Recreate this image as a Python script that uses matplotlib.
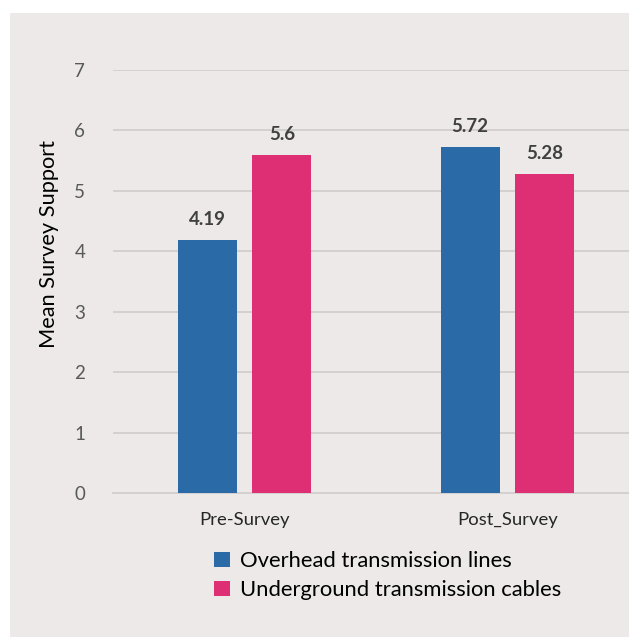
import matplotlib
matplotlib.use("Agg")
import matplotlib.pyplot as plt
from matplotlib.patches import Rectangle
import numpy as np

categories = ["Pre-Survey", "Post_Survey"]
series_names = ["Overhead transmission lines", "Underground transmission cables"]
overhead = [4.19, 5.72]
underground = [5.6, 5.28]
y_ticks = [0, 1, 2, 3, 4, 5, 6, 7]

colors = ["#2A6AA6", "#DE2E74"]
bg = "#ECE9E8"
grid_c = "#D3D0CF"

plt.rcParams["font.family"] = ["Lato", "DejaVu Sans"]

W, H = 629, 637
fig = plt.figure(figsize=(W / 100, H / 100), dpi=100)
fig.patch.set_facecolor("white")
fig.add_artist(Rectangle((10 / W, 0), 1 - 10 / W, (H - 13) / H,
                         transform=fig.transFigure, facecolor=bg,
                         edgecolor="none", zorder=0))

left, right = 113 / W, 1.0
bottom, top = (H - 493) / H, (H - 70) / H
ax = fig.add_axes([left, bottom, right - left, top - bottom])
ax.set_facecolor(bg)
ax.patch.set_alpha(0)

x = np.arange(len(categories))
bw = 0.224
off = 0.142
bars1 = ax.bar(x - off, overhead, bw, color=colors[0], label=series_names[0], zorder=3)
bars2 = ax.bar(x + off, underground, bw, color=colors[1], label=series_names[1], zorder=3)

for bars, vals in ((bars1, overhead), (bars2, underground)):
    for b, v in zip(bars, vals):
        ax.text(b.get_x() + b.get_width() / 2, v + 0.2, f"{v:g}",
                ha="center", va="bottom", fontsize=13.5, fontweight="bold",
                color="#404040")

ax.set_ylim(0, 7)
ax.set_xlim(-0.5, -0.5 + 516 / 263)
ax.set_yticks(y_ticks)
ax.set_yticklabels([str(t) for t in y_ticks], fontsize=13.5, color="#595959")
ax.set_xticks(x)
ax.set_xticklabels(categories, fontsize=13.3, color="#262626")
ax.tick_params(axis="y", length=0, pad=20)
ax.tick_params(axis="x", length=0, pad=14)
ax.grid(axis="y", color=grid_c, linewidth=1.4, zorder=0)
for s in ("top", "right", "left"):
    ax.spines[s].set_visible(False)
ax.spines["bottom"].set_color(grid_c)
ax.spines["bottom"].set_linewidth(1.4)
ax.set_ylabel("Mean Survey Support", fontsize=15.7, color="black")
ax.yaxis.set_label_coords(-0.104, 0.589)

leg = fig.legend(handles=[bars1, bars2], labels=series_names,
                 loc="upper left", bbox_to_anchor=(214 / W, (H - 551) / H),
                 frameon=False, fontsize=15.8, handlelength=0.72, handleheight=0.72,
                 handletextpad=0.45, labelspacing=0.42, borderaxespad=0, borderpad=0)

fig.savefig("out.png", dpi=100, facecolor=fig.get_facecolor())
